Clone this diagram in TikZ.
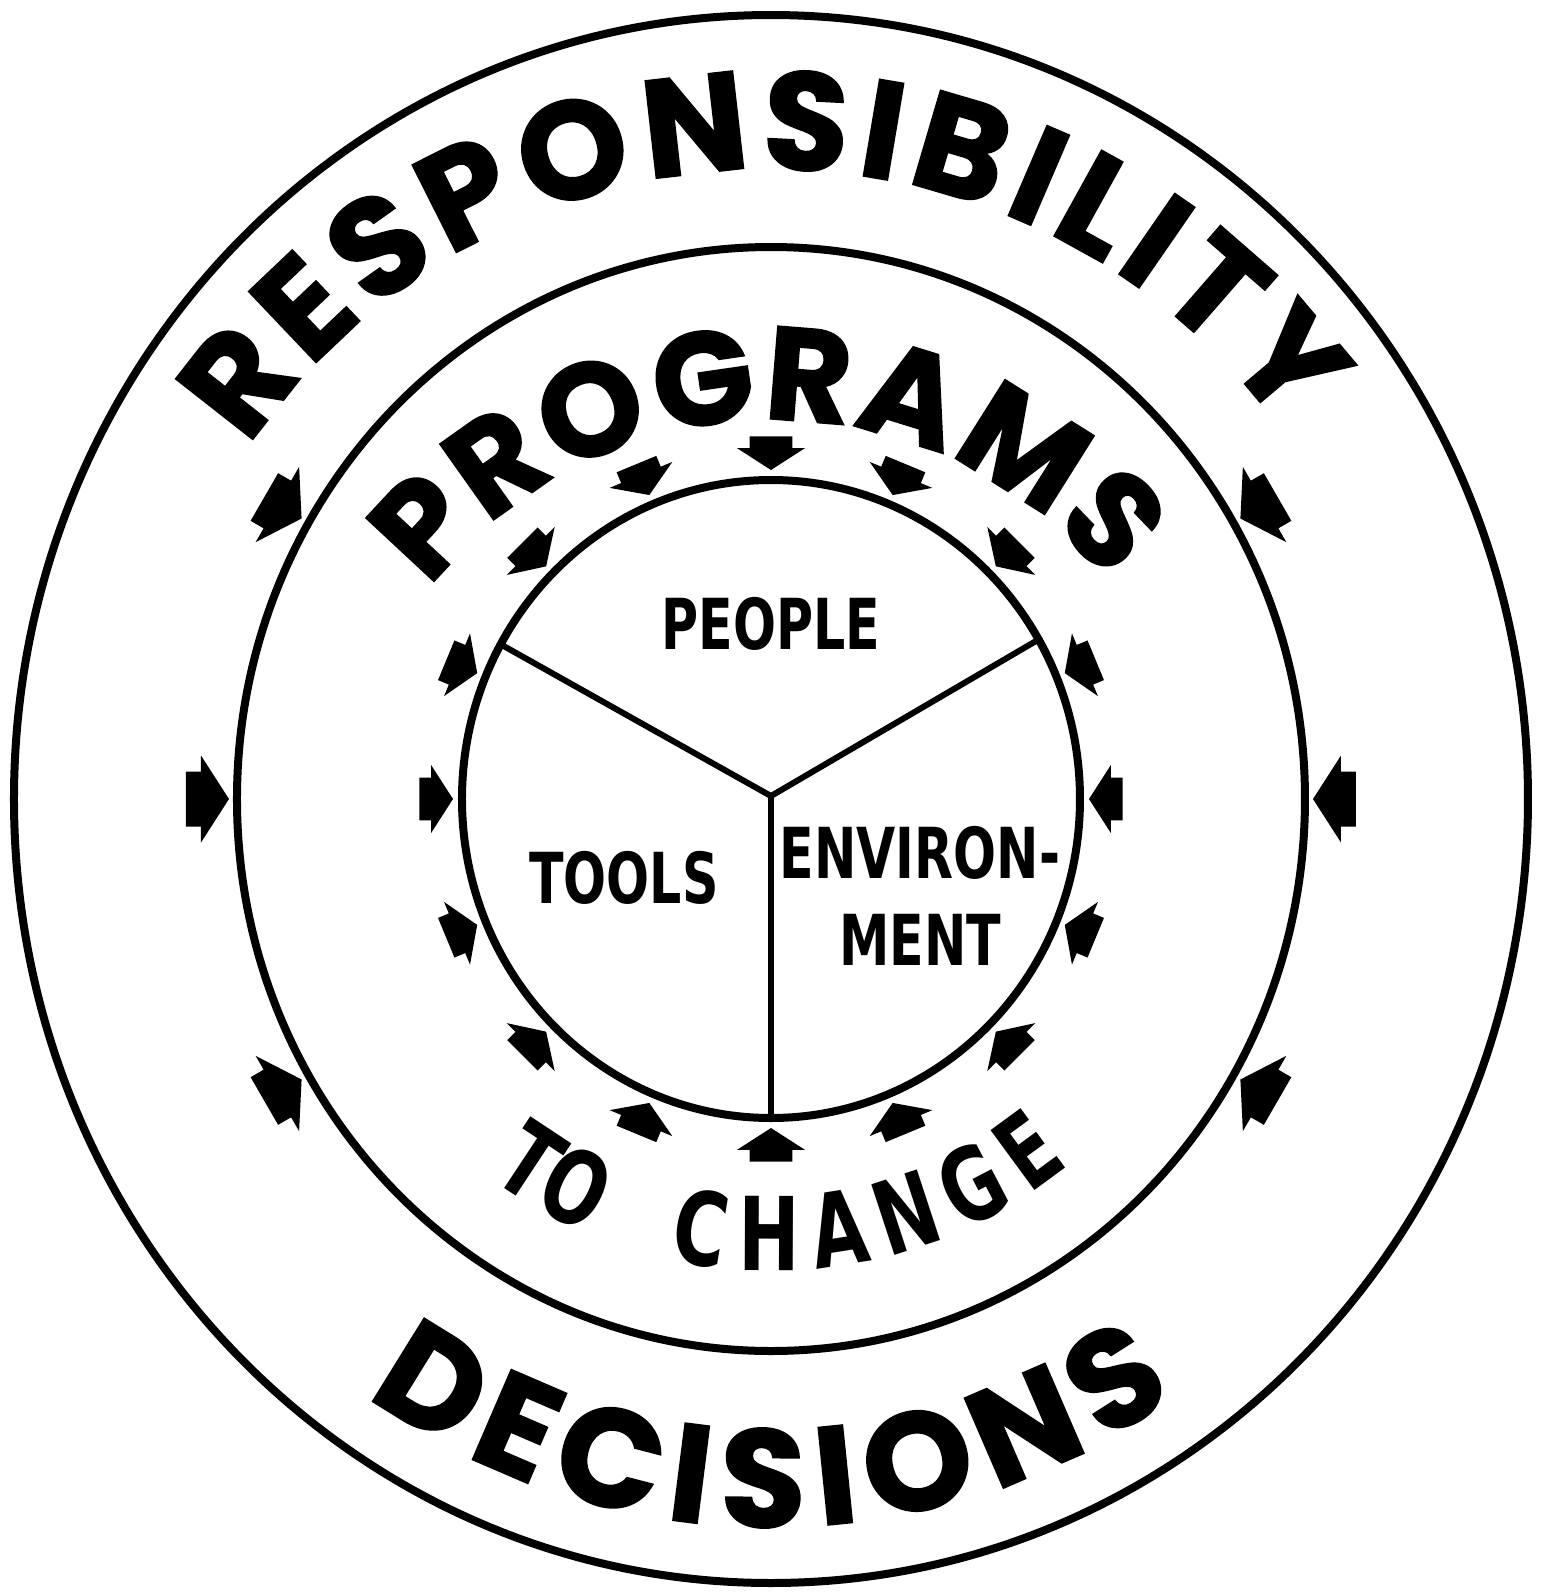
\documentclass[tikz,border=0pt]{standalone}
\usepackage{fontspec}
\usepackage{tikz}
\usetikzlibrary{decorations.text}
\newfontfamily\ringfont{Poppins}[BoldFeatures={FakeBold=1.5}]
\newfontfamily\labelfont{DejaVu Sans}[FakeStretch=0.72]
\definecolor{ink}{HTML}{000000}
\definecolor{paper}{HTML}{FFFFFF}
\newcommand\outertype{\ringfont\bfseries\fontsize{39.5}{40}\selectfont}
\newcommand\middletype{\ringfont\bfseries\fontsize{37.5}{38}\selectfont}
\newcommand\changetype{\labelfont\bfseries\fontsize{29}{29}\selectfont}
\tikzset{
  ring/.style={draw=ink, line width=0.8mm},
  spoke/.style={draw=ink, line width=0.6mm},
  lab/.style={text=ink, inner sep=0pt, align=center,
    font=\labelfont\bfseries\fontsize{20}{24.8}\selectfont},
  arc text/.style={decorate, decoration={text along path,
    text align=fit to path, text color=ink, text={#1}}},
  house/.pic={\fill[ink] (0,0) -- (-0.28,0.435) -- (-0.28,0.275)
    -- (-0.43,0.275) -- (-0.43,-0.275) -- (-0.28,-0.275)
    -- (-0.28,-0.435) -- cycle;}
}

\begin{document}
\begin{tikzpicture}
  \fill[paper] (-7.71,-7.93) rectangle (7.81,7.99);
  \useasboundingbox (-7.71,-7.93) rectangle (7.81,7.99);

  \coordinate (O) at (0,0);
  \draw[ring] (O) ellipse [x radius=7.57, y radius=7.84];
  \draw[ring] (O) ellipse [x radius=5.34, y radius=5.52];
  \draw[ring] (O) ellipse [x radius=3.09, y radius=3.19];

  % the three sectors
  \coordinate (hub) at (0,0.03);
  \coordinate (sr) at (30:3.09 and 3.19);
  \coordinate (sl) at (151:3.09 and 3.19);
  \coordinate (sb) at (270:3.09 and 3.19);
  \draw[spoke] (sl) -- (hub) -- (sr);
  \draw[spoke] (hub) -- (sb);

  \node[lab] (people) at (0,1.75) {PEOPLE};
  \node[lab] (tools) at (-1.47,-0.79) {TOOLS};
  \node[lab] (env) at (1.49,-0.97) {ENVIRON-\\MENT};

  % pressure on the rings
  \foreach \a in {0,30,150,180,210,330}
    \pic[rotate=\a+180] at (\a:5.42 and 5.61) {house};
  \foreach \a in {0,22.5,...,337.5}
    \pic[rotate=\a+180, scale=0.78] at (\a:3.18 and 3.29) {house};

  % lettering round the bands
  \path[arc text={|\outertype|RESPONSIBILITY}]
    (146:6.3) arc[start angle=146, end angle=35.9, radius=6.3];
  \path[arc text={|\outertype|DECISIONS}]
    (235:7.05 and 7.28) arc[start angle=235, end angle=305,
      x radius=7.05, y radius=7.28];
  \path[arc text={|\middletype|PROGRAMS}, shift={(0,-0.51)}]
    (142.5:4.3) arc[start angle=142.5, end angle=38.5, radius=4.3];
  \path[arc text={|\changetype|TO}]
    (233.5:4.72) arc[start angle=233.5, end angle=247, radius=4.72];
  \path[arc text={|\changetype|CHANGE}]
    (257.5:4.72) arc[start angle=257.5, end angle=309.3, radius=4.72];
\end{tikzpicture}
\end{document}
